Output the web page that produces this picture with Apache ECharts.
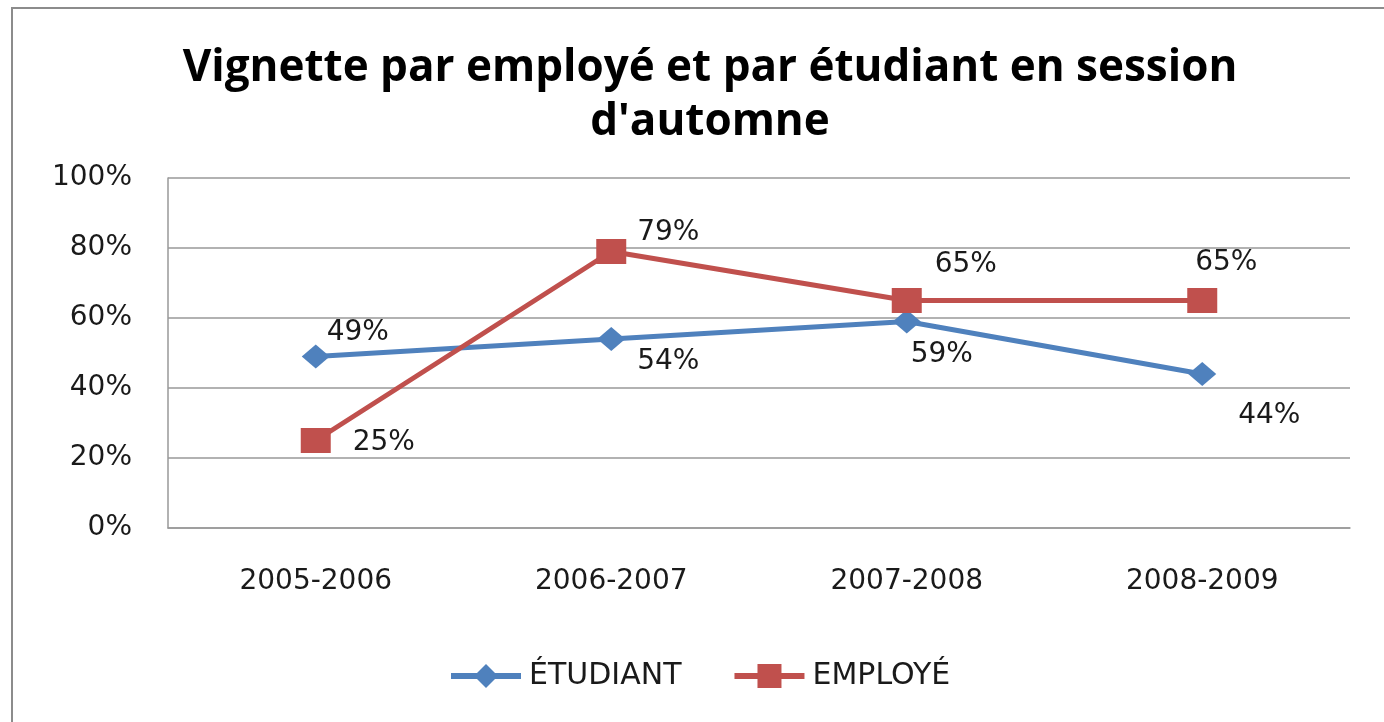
<!DOCTYPE html>
<html lang="fr">
<head>
<meta charset="UTF-8">
<title>Vignette</title>
<script src="https://cdn.jsdelivr.net/npm/echarts@6/dist/echarts.min.js"></script>
<style>
  html, body { margin: 0; padding: 0; background: #fff; }
  #chart { width: 1384px; height: 722px; }
</style>
</head>
<body>
<div id="chart"></div>
<script type="text/javascript">
  var categories = ['2005-2006', '2006-2007', '2007-2008', '2008-2009'];
  var etudiant = [49, 54, 59, 44];
  var employe = [25, 79, 65, 65];
  var yTicks = [0, 20, 40, 60, 80, 100];

  // label offsets from each point (px)
  var etudiantLabelOffsets = [[42, -24], [57, 23], [35, 33], [67, 42]];
  var employeLabelOffsets = [[68, 2], [57, -19], [59, -36], [24, -38]];

  var labelFont = { fontFamily: 'DejaVu Sans', fontSize: 28, color: '#1a1a1a' };

  function withLabels(values, offsets) {
    return values.map(function (v, i) {
      return { value: v, label: { offset: offsets[i] } };
    });
  }

  var chart = echarts.init(document.getElementById('chart'));
  var option = {
    backgroundColor: '#fff',
    animation: false,
    graphic: [{
      type: 'rect',
      shape: { x: 12, y: 8, width: 1500, height: 800 },
      style: { fill: 'none', stroke: '#8c8c8c', lineWidth: 2 }
    }],
    title: {
      text: 'Vignette par employé et par étudiant en session\nd\'automne',
      left: 705,
      top: 36,
      textAlign: 'center',
      textStyle: {
        fontFamily: 'Open Sans',
        fontWeight: 'bold',
        fontSize: 44,
        lineHeight: 54,
        color: '#000'
      }
    },
    legend: {
      bottom: 26,
      left: 443,
      itemWidth: 70,
      itemHeight: 30,
      itemGap: 50,
      lineStyle: { width: 6 },
      textStyle: { fontFamily: 'DejaVu Sans', fontSize: 30, color: '#1a1a1a', padding: [0, 0, 0, 3] },
      data: ['ÉTUDIANT', 'EMPLOYÉ']
    },
    grid: { left: 168, right: 34, top: 178, height: 350 },
    xAxis: {
      type: 'category',
      data: categories,
      boundaryGap: true,
      axisLine: { lineStyle: { color: '#999', width: 1.5 } },
      axisTick: { show: false },
      axisLabel: Object.assign({ margin: 40 }, labelFont)
    },
    yAxis: {
      type: 'value',
      min: yTicks[0],
      max: yTicks[yTicks.length - 1],
      interval: 20,
      axisLine: { show: true, lineStyle: { color: '#999', width: 1.5 } },
      axisTick: { show: false },
      splitLine: { lineStyle: { color: '#999', width: 1.5 } },
      axisLabel: Object.assign({ margin: 36, formatter: '{value}%' }, labelFont)
    },
    series: [
      {
        name: 'ÉTUDIANT',
        type: 'line',
        data: withLabels(etudiant, etudiantLabelOffsets),
        symbol: 'diamond',
        symbolSize: [28, 24],
        lineStyle: { color: '#4F81BD', width: 5 },
        itemStyle: { color: '#4F81BD' },
        label: Object.assign({ show: true, position: 'inside', formatter: '{c}%' }, labelFont)
      },
      {
        name: 'EMPLOYÉ',
        type: 'line',
        data: withLabels(employe, employeLabelOffsets),
        symbol: 'rect',
        symbolSize: [30, 25],
        lineStyle: { color: '#C0504D', width: 5 },
        itemStyle: { color: '#C0504D' },
        label: Object.assign({ show: true, position: 'inside', formatter: '{c}%' }, labelFont)
      }
    ]
  };
  chart.setOption(option);
</script>
</body>
</html>
